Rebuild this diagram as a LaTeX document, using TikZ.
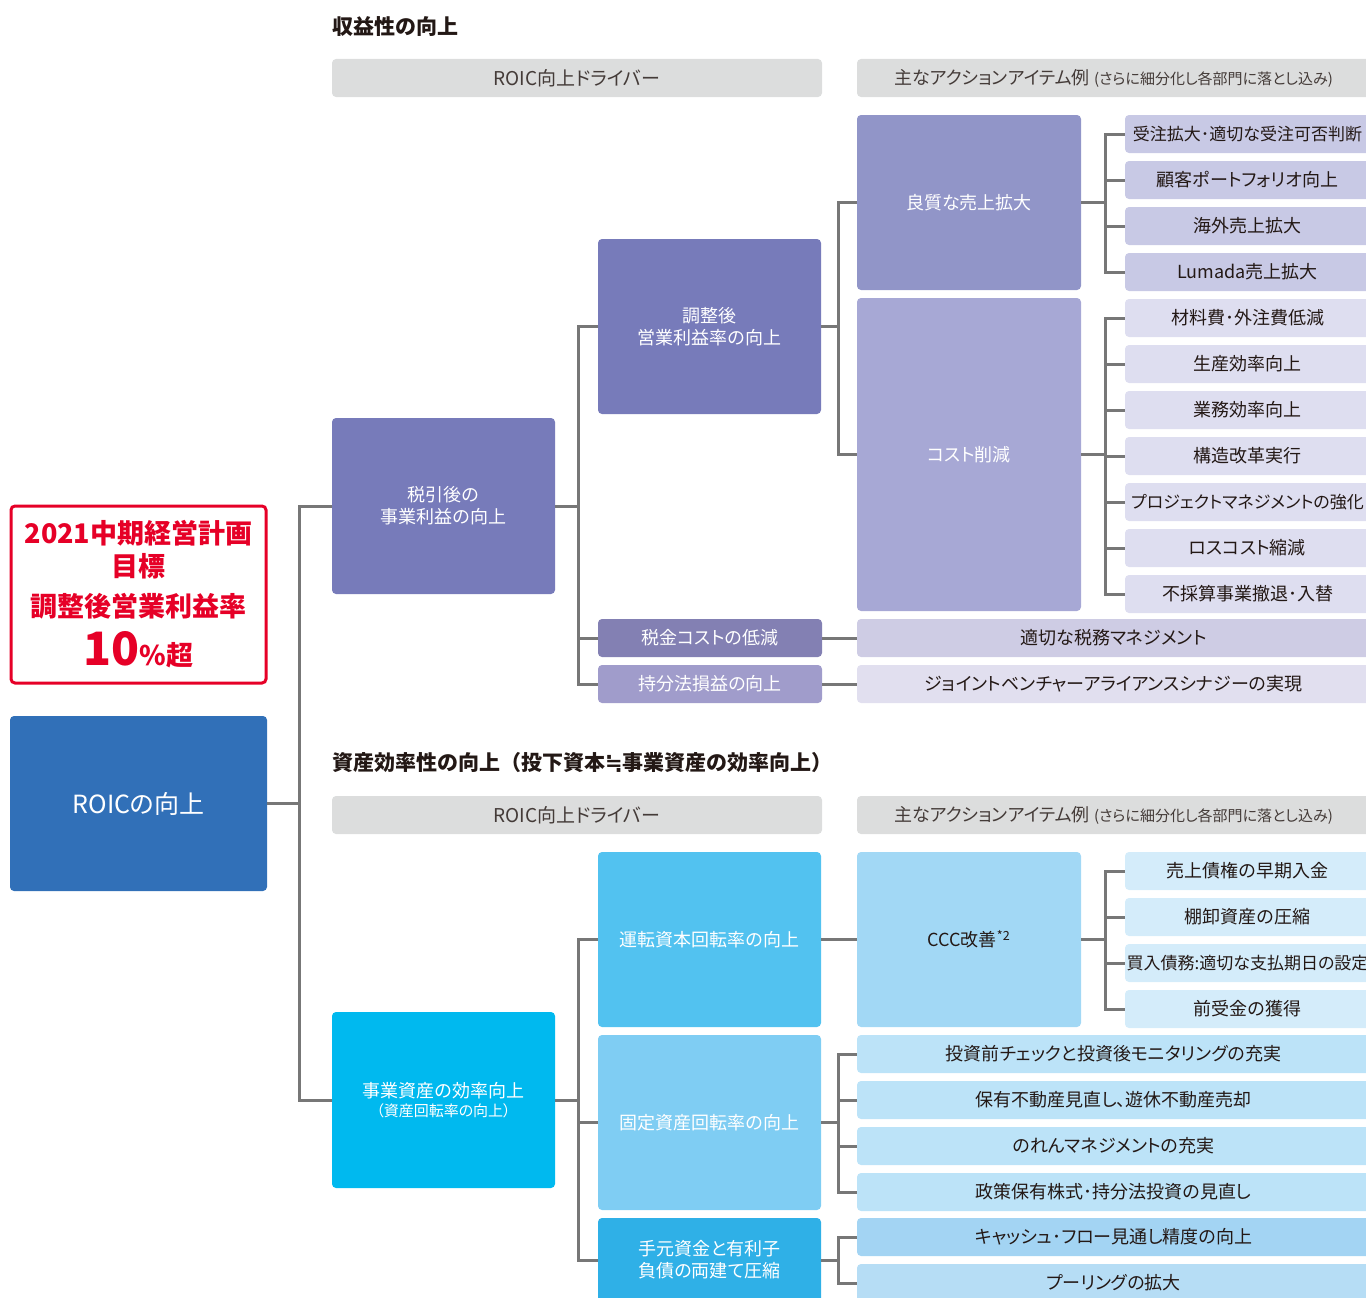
\documentclass[tikz,border=0pt]{standalone}
\usepackage{fontspec}
\setmainfont{Noto Sans CJK JP}[RawFeature=+palt]
\newfontfamily\headfont{Noto Sans CJK JP}
\newfontfamily\symfont{DejaVu Sans}
\usetikzlibrary{positioning}

\definecolor{roicblue}{HTML}{3170B8}
\definecolor{goalred}{HTML}{E60027}
\definecolor{linegray}{HTML}{777777}
\definecolor{bargray}{HTML}{DCDDDD}
\definecolor{inkgray}{HTML}{231815}
\definecolor{purpleA}{HTML}{777BBA}
\definecolor{purpleB}{HTML}{9195C8}
\definecolor{purpleC}{HTML}{A7A8D5}
\definecolor{purpleBi}{HTML}{C8C9E5}
\definecolor{purpleCi}{HTML}{DEDEF0}
\definecolor{taxbox}{HTML}{8380B3}
\definecolor{taxitem}{HTML}{CECCE4}
\definecolor{eqbox}{HTML}{A09CCB}
\definecolor{eqitem}{HTML}{E1DFEF}
\definecolor{cyanA}{HTML}{00B9EF}
\definecolor{cyanB}{HTML}{52C2F0}
\definecolor{cyanC}{HTML}{7FCDF3}
\definecolor{cyanD}{HTML}{2FB0E7}
\definecolor{cccbox}{HTML}{A2D8F5}
\definecolor{cccitem}{HTML}{D4ECFA}
\definecolor{fixitem}{HTML}{BCE3F8}
\definecolor{cashitemA}{HTML}{A3D4F3}
\definecolor{cashitemB}{HTML}{B6DDF5}

\tikzstyle{base} = [rectangle, rounded corners=4pt, inner sep=0pt, align=center, font=\fontsize{18}{22}\selectfont]
\tikzstyle{driver} = [base, minimum width=223pt, minimum height=176pt, text=white]
\tikzstyle{small} = [base, minimum width=224pt, minimum height=38pt, text=white]
\tikzstyle{item} = [base, minimum width=245pt, minimum height=38pt, text=inkgray]
\tikzstyle{longitem} = [item, font=\fontsize{17}{21}\selectfont]
\tikzstyle{wide} = [base, minimum width=513pt, minimum height=38pt, text=inkgray]
\tikzstyle{bar} = [base, fill=bargray, minimum height=38pt, text=inkgray!85, font=\fontsize{19}{23}\selectfont]
\tikzstyle{heading} = [anchor=west, inner sep=0pt, text=inkgray, font=\fontsize{21}{25}\selectfont\headfont\bfseries]
\tikzstyle{link} = [line width=3pt, draw=linegray]

\begin{document}
\begin{tikzpicture}[x=1pt, y=-1pt, node distance=46pt]
\useasboundingbox (0,0) rectangle (1366,1298);

% left side
\node (goal) [base, draw=goalred, line width=3pt, fill=white, text=goalred, minimum width=255pt, minimum height=177pt, font=\fontsize{27}{33}\selectfont\bfseries] at (138.5,594.5)
  {2021中期経営計画\\目標\\[7pt]調整後営業利益率\\[11pt]{\fontsize{46}{46}\selectfont 10}\%超};
\node (roic) [base, fill=roicblue, text=white, minimum width=257pt, minimum height=175pt, font=\fontsize{25}{29}\selectfont] at (138.5,803.5) {ROICの向上};

% profitability
\node (head1) [heading] at (332,27) {収益性の向上};
\node (bar1) [bar, minimum width=490pt] at (577,78) {ROIC向上ドライバー};
\node (bar2) [bar, minimum width=513pt] at (1113.5,78) {{\fontsize{18}{22}\selectfont 主なアクションアイテム例}\ {\fontsize{15}{18}\selectfont (さらに細分化し各部門に落とし込み)}};

\node (pretax) [driver, fill=purpleA] at (443.5,506) {税引後の\\事業利益の向上};
\node (adjop) [driver, fill=purpleA, minimum height=175pt] at (709.5,326.5) {調整後\\営業利益率の向上};
\node (sales) [driver, fill=purpleB, minimum width=224pt, minimum height=175pt] at (969,202.5) {良質な売上拡大};
\node (cost) [driver, fill=purpleC, minimum width=224pt, minimum height=313pt] at (969,454.5) {コスト削減};
\node (tax) [small, fill=taxbox] at (710,638) {税金コストの低減};
\node (equity) [small, fill=eqbox] at (710,684) {持分法損益の向上};

\node (s1) [longitem, fill=purpleBi] at (1247.5,134) {受注拡大･適切な受注可否判断};
\node (s2) [item, fill=purpleBi, below of=s1] {顧客ポートフォリオ向上};
\node (s3) [item, fill=purpleBi, below of=s2] {海外売上拡大};
\node (s4) [item, fill=purpleBi, below of=s3] {Lumada売上拡大};

\node (c1) [item, fill=purpleCi, below of=s4] {材料費･外注費低減};
\node (c2) [item, fill=purpleCi, below of=c1] {生産効率向上};
\node (c3) [item, fill=purpleCi, below of=c2] {業務効率向上};
\node (c4) [item, fill=purpleCi, below of=c3] {構造改革実行};
\node (c5) [longitem, fill=purpleCi, below of=c4] {プロジェクトマネジメントの強化};
\node (c6) [item, fill=purpleCi, below of=c5] {ロスコスト縮減};
\node (c7) [item, fill=purpleCi, below of=c6] {不採算事業撤退･入替};

\node (taxact) [wide, fill=taxitem] at (1113.5,638) {適切な税務マネジメント};
\node (jvact) [wide, fill=eqitem, below of=taxact] {ジョイントベンチャーアライアンスシナジーの実現};

% asset efficiency
\node (head2) [heading] at (332,763) {資産効率性の向上（投下資本{\symfont ≒}事業資産の効率向上）};
\node (bar3) [bar, minimum width=490pt] at (577,815) {ROIC向上ドライバー};
\node (bar4) [bar, minimum width=513pt] at (1113.5,815) {{\fontsize{18}{22}\selectfont 主なアクションアイテム例}\ {\fontsize{15}{18}\selectfont (さらに細分化し各部門に落とし込み)}};

\node (assets) [driver, fill=cyanA] at (443.5,1100) {事業資産の効率向上\\[-3pt]{\fontsize{15}{18}\selectfont （資産回転率の向上）}};
\node (work) [driver, fill=cyanB, minimum height=175pt] at (709.5,939.5) {運転資本回転率の向上};
\node (fixed) [driver, fill=cyanC, minimum height=175pt] at (709.5,1122.5) {固定資産回転率の向上};
\node (cash) [driver, fill=cyanD, minimum height=84pt] at (709.5,1260) {手元資金と有利子\\負債の両建て圧縮};
\node (ccc) [driver, fill=cccbox, text=inkgray, minimum width=224pt, minimum height=175pt] at (969,939.5) {CCC改善\textsuperscript{*2}};

\node (k1) [item, fill=cccitem] at (1247.5,871) {売上債権の早期入金};
\node (k2) [item, fill=cccitem, below of=k1] {棚卸資産の圧縮};
\node (k3) [longitem, fill=cccitem, below of=k2] {買入債務:適切な支払期日の設定};
\node (k4) [item, fill=cccitem, below of=k3] {前受金の獲得};

\node (f1) [wide, fill=fixitem] at (1113.5,1054) {投資前チェックと投資後モニタリングの充実};
\node (f2) [wide, fill=fixitem, below of=f1] {保有不動産見直し、遊休不動産売却};
\node (f3) [wide, fill=fixitem, below of=f2] {のれんマネジメントの充実};
\node (f4) [wide, fill=fixitem, below of=f3] {政策保有株式･持分法投資の見直し};

\node (h1) [wide, fill=cashitemA] at (1113.5,1237) {キャッシュ･フロー見通し精度の向上};
\node (h2) [wide, fill=cashitemB, below of=h1] {プーリングの拡大};

% connectors
\draw [link] (roic.east) -- ++(32,0) |- (pretax.west);
\draw [link] (roic.east) -- ++(32,0) |- (assets.west);

\draw [link] (pretax.east) -- ++(23,0) |- (adjop.west);
\draw [link] (pretax.east) -- ++(23,0) |- (tax.west);
\draw [link] (pretax.east) -- ++(23,0) |- (equity.west);

\draw [link] (adjop.east) -- ++(17,0) |- (sales.west);
\draw [link] (adjop.east) -- ++(17,0) |- (cost.west);

\draw [link] (sales.east) -- ++(24,0) |- (s1.west);
\draw [link] (sales.east) -- ++(24,0) |- (s2.west);
\draw [link] (sales.east) -- ++(24,0) |- (s3.west);
\draw [link] (sales.east) -- ++(24,0) |- (s4.west);

\draw [link] (cost.east) -- ++(24,0) |- (c1.west);
\draw [link] (cost.east) -- ++(24,0) |- (c2.west);
\draw [link] (cost.east) -- ++(24,0) |- (c3.west);
\draw [link] (cost.east) -- ++(24,0) |- (c4.west);
\draw [link] (cost.east) -- ++(24,0) |- (c5.west);
\draw [link] (cost.east) -- ++(24,0) |- (c6.west);
\draw [link] (cost.east) -- ++(24,0) |- (c7.west);

\draw [link] (tax) -- (taxact);
\draw [link] (equity) -- (jvact);

\draw [link] (assets.east) -- ++(23,0) |- (work.west);
\draw [link] (assets.east) -- ++(23,0) |- (fixed.west);
\draw [link] (assets.east) -- ++(23,0) |- (cash.west);

\draw [link] (work) -- (ccc);

\draw [link] (ccc.east) -- ++(24,0) |- (k1.west);
\draw [link] (ccc.east) -- ++(24,0) |- (k2.west);
\draw [link] (ccc.east) -- ++(24,0) |- (k3.west);
\draw [link] (ccc.east) -- ++(24,0) |- (k4.west);

\draw [link] (fixed.east) -- ++(17,0) |- (f1.west);
\draw [link] (fixed.east) -- ++(17,0) |- (f2.west);
\draw [link] (fixed.east) -- ++(17,0) |- (f3.west);
\draw [link] (fixed.east) -- ++(17,0) |- (f4.west);

\draw [link] (cash.east) -- ++(17,0) |- (h1.west);
\draw [link] (cash.east) -- ++(17,0) |- (h2.west);

\end{tikzpicture}
\end{document}
